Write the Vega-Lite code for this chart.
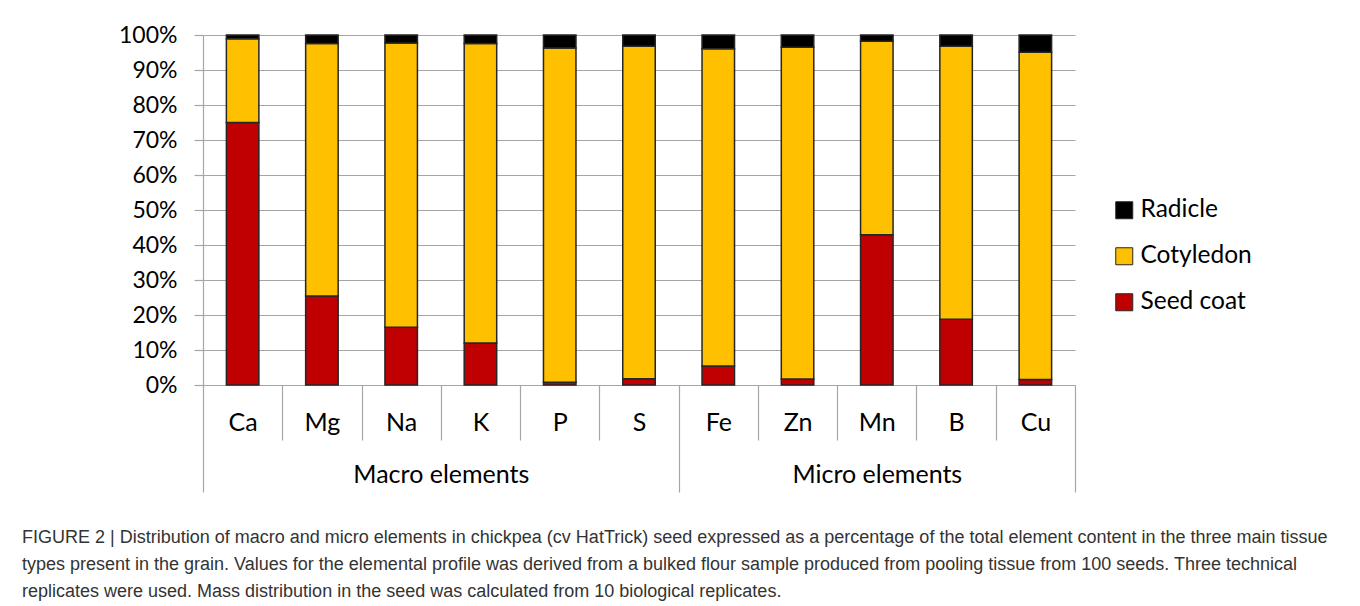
{
  "$schema": "https://vega.github.io/schema/vega-lite/v6.json",
  "width": 872,
  "height": 350,
  "autosize": {"type": "none"},
  "padding": {"left": 203, "top": 35, "right": 285, "bottom": 221},
  "background": "white",
  "config": {"view": {"stroke": null}, "font": "Lato"},
  "title": {
    "text": [
      "FIGURE 2 | Distribution of macro and micro elements in chickpea (cv HatTrick) seed expressed as a percentage of the total element content in the three main tissue",
      "types present in the grain. Values for the elemental profile was derived from a bulked flour sample produced from pooling tissue from 100 seeds. Three technical",
      "replicates were used. Mass distribution in the seed was calculated from 10 biological replicates."
    ],
    "orient": "bottom",
    "anchor": "start",
    "frame": "group",
    "font": "Liberation Sans",
    "fontSize": 18,
    "fontWeight": "normal",
    "color": "#333333",
    "lineHeight": 27,
    "dx": -181,
    "offset": 36
  },
  "data": {
    "values": [
      {"element": "Ca", "tissue": "Seed coat", "level": 1, "share": 75.0},
      {"element": "Ca", "tissue": "Cotyledon", "level": 2, "share": 23.9},
      {"element": "Ca", "tissue": "Radicle", "level": 3, "share": 1.1},
      {"element": "Mg", "tissue": "Seed coat", "level": 1, "share": 25.4},
      {"element": "Mg", "tissue": "Cotyledon", "level": 2, "share": 72.2},
      {"element": "Mg", "tissue": "Radicle", "level": 3, "share": 2.4},
      {"element": "Na", "tissue": "Seed coat", "level": 1, "share": 16.5},
      {"element": "Na", "tissue": "Cotyledon", "level": 2, "share": 81.2},
      {"element": "Na", "tissue": "Radicle", "level": 3, "share": 2.3},
      {"element": "K", "tissue": "Seed coat", "level": 1, "share": 12.0},
      {"element": "K", "tissue": "Cotyledon", "level": 2, "share": 85.6},
      {"element": "K", "tissue": "Radicle", "level": 3, "share": 2.4},
      {"element": "P", "tissue": "Seed coat", "level": 1, "share": 0.8},
      {"element": "P", "tissue": "Cotyledon", "level": 2, "share": 95.5},
      {"element": "P", "tissue": "Radicle", "level": 3, "share": 3.7},
      {"element": "S", "tissue": "Seed coat", "level": 1, "share": 1.8},
      {"element": "S", "tissue": "Cotyledon", "level": 2, "share": 95.0},
      {"element": "S", "tissue": "Radicle", "level": 3, "share": 3.2},
      {"element": "Fe", "tissue": "Seed coat", "level": 1, "share": 5.4},
      {"element": "Fe", "tissue": "Cotyledon", "level": 2, "share": 90.7},
      {"element": "Fe", "tissue": "Radicle", "level": 3, "share": 3.9},
      {"element": "Zn", "tissue": "Seed coat", "level": 1, "share": 1.7},
      {"element": "Zn", "tissue": "Cotyledon", "level": 2, "share": 94.8},
      {"element": "Zn", "tissue": "Radicle", "level": 3, "share": 3.5},
      {"element": "Mn", "tissue": "Seed coat", "level": 1, "share": 42.9},
      {"element": "Mn", "tissue": "Cotyledon", "level": 2, "share": 55.3},
      {"element": "Mn", "tissue": "Radicle", "level": 3, "share": 1.8},
      {"element": "B", "tissue": "Seed coat", "level": 1, "share": 18.8},
      {"element": "B", "tissue": "Cotyledon", "level": 2, "share": 78.0},
      {"element": "B", "tissue": "Radicle", "level": 3, "share": 3.2},
      {"element": "Cu", "tissue": "Seed coat", "level": 1, "share": 1.6},
      {"element": "Cu", "tissue": "Cotyledon", "level": 2, "share": 93.5},
      {"element": "Cu", "tissue": "Radicle", "level": 3, "share": 4.9}
    ]
  },
  "layer": [
    {
      "mark": {"type": "bar", "width": {"band": 0.41}, "stroke": "#262626", "strokeWidth": 1.5},
      "encoding": {
        "x": {
          "field": "element", "type": "nominal", "sort": null,
          "scale": {"paddingInner": 0, "paddingOuter": 0},
          "axis": {
            "title": null,
            "tickBand": "extent",
            "tickSize": {"condition": {"test": "datum.value === 'S' || datum.value === 'Cu' || datum.value == null", "value": 107}, "value": 55},
            "tickColor": "#a6a6a6",
            "tickWidth": 1.2,
            "domainColor": "#a6a6a6",
            "domainWidth": 1.2,
            "labelAngle": 0,
            "labelFontSize": 25,
            "labelColor": "#000000",
            "labelPadding": {"condition": {"test": "datum.value === 'S' || datum.value === 'Cu'", "value": -82}, "value": -30},
            "grid": false
          }
        },
        "y": {
          "field": "share", "type": "quantitative", "stack": "normalize",
          "scale": {"domain": [0, 1]},
          "axis": {
            "title": null,
            "values": [0, 0.1, 0.2, 0.3, 0.4, 0.5, 0.6, 0.7, 0.8, 0.9, 1],
            "format": ".0%",
            "labelFontSize": 23,
            "labelColor": "#000000",
            "labelPadding": 17,
            "tickSize": 9,
            "tickColor": "#a6a6a6",
            "domainColor": "#a6a6a6",
            "gridColor": "#a6a6a6",
            "gridWidth": 1.2,
            "tickWidth": 1.2,
            "domainWidth": 1.2
          }
        },
        "color": {
          "field": "tissue", "type": "nominal",
          "scale": {"domain": ["Radicle", "Cotyledon", "Seed coat"], "range": ["#000000", "#FFC000", "#C00000"]},
          "legend": {
            "title": null,
            "orient": "none",
            "legendX": 909,
            "legendY": 163,
            "symbolType": "square",
            "symbolSize": 289,
            "symbolStrokeColor": "#262626",
            "symbolStrokeWidth": 1,
            "labelFontSize": 24.5,
            "labelColor": "#000000",
            "labelOffset": 4,
            "rowPadding": 21
          }
        },
        "order": {"field": "level", "type": "quantitative"}
      }
    },
    {
      "mark": {"type": "text"},
      "encoding": {
        "x": {
          "field": "element", "type": "nominal", "sort": null,
          "scale": {"paddingInner": 0, "paddingOuter": 0},
          "axis": {
            "title": null,
            "orient": "bottom",
            "offset": 75,
            "domain": false,
            "ticks": false,
            "grid": false,
            "labelAngle": 0,
            "labelPadding": 2,
            "labelFontSize": 25,
            "labelColor": "#000000",
            "labelExpr": "datum.value === 'K' ? 'Macro elements' : datum.value === 'Mn' ? 'Micro elements' : ''",
            "labelOffset": {"condition": {"test": "datum.value === 'K'", "value": -39.6}, "value": 0},
            "labelOverlap": false
          }
        },
        "text": {"value": ""}
      }
    }
  ],
  "resolve": {"scale": {"x": "independent"}, "axis": {"x": "independent"}}
}
